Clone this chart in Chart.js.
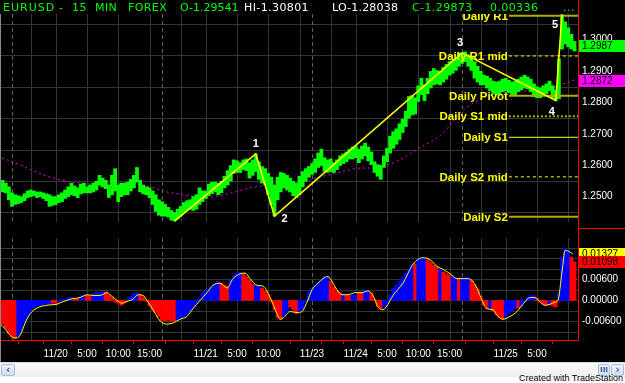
<!DOCTYPE html>
<html>
<head>
<meta charset="utf-8">
<script src="https://cdn.jsdelivr.net/npm/chart.js@4.4.1/dist/chart.umd.min.js"></script>
<style>
  html, body { margin:0; padding:0; width:625px; height:383px; overflow:hidden; background:#000; }
  #wrap { position:relative; width:625px; height:383px; background:#000; overflow:hidden; }
  canvas { position:absolute; left:0; }
  #cMain { top:0; }
  #cMacd { top:228px; }
  .hd { position:absolute; top:1px; font-family:"DejaVu Sans"; font-size:11px; line-height:14px; white-space:pre; letter-spacing:0.4px; }
  .g { color:#00ff00; } .w { color:#ffffff; }
  .rl { position:absolute; background:#ff0000; }
  #leftEdge { position:absolute; left:0; top:14px; width:1px; height:348px; background:#8a8a8a; }
  #scroll { position:absolute; left:0; top:362px; width:625px; height:15px; background:linear-gradient(#fbfbfb,#eeeeee); border-top:1px solid #d8d8d8; box-sizing:border-box; }
  .btn { position:absolute; top:1px; height:12px; background:linear-gradient(#eef3fc,#cfdcf3); border:1px solid #a9bde0; box-sizing:border-box; border-radius:2px; color:#3d5a8c; font:bold 10px "DejaVu Sans"; line-height:10px; text-align:center; }
  #bottomWhite { position:absolute; left:0; top:377px; width:625px; height:6px; background:#ffffff; }
  #credit { position:absolute; right:2px; top:373px; font:9px "Liberation Sans"; color:#000; white-space:pre; line-height:10px; }
</style>
</head>
<body>
<div id="wrap">
  <canvas id="cMain" width="625" height="232"></canvas>
  <canvas id="cMacd" width="625" height="134"></canvas>

  <span class="hd g" style="left:3px;letter-spacing:1px">EURUSD</span>
  <span class="hd g" style="left:59px">-</span>
  <span class="hd g" style="left:72px">15</span>
  <span class="hd g" style="left:95px">MIN</span>
  <span class="hd g" style="left:128px">FOREX</span>
  <span class="hd g" style="left:180px;letter-spacing:0">O-1.29541</span>
  <span class="hd w" style="left:244px">HI-1.30801</span>
  <span class="hd w" style="left:332px;letter-spacing:0.2px">LO-1.28038</span>
  <span class="hd g" style="left:412px">C-1.29873</span>
  <span class="hd g" style="left:490px">0.00336</span>
  <span class="hd g" style="left:563px">...</span>

  <div class="rl" style="left:578px;top:0;width:1px;height:341px"></div>
  <div class="rl" style="left:578px;top:228px;width:47px;height:1px"></div>
  <div class="rl" style="left:0;top:340px;width:579px;height:1px"></div>
  <div id="leftEdge"></div>

  <div id="scroll">
    <div class="btn" style="left:1px;width:14px">&lsaquo;</div>
    <div class="btn" style="left:598px;width:12px;font-size:7px">III</div>
    <div class="btn" style="left:611px;width:13px">&rsaquo;</div>
  </div>
  <div id="bottomWhite"></div>
  <div id="credit">Created with TradeStation</div>
</div>

<script>
// ---------------- DATA ----------------
// time axis: half-hour index counted from the 11/19 17:00 session start (weekend removed)
const firstBar = -3;
const priceHigh = [1.2552,1.2543,1.2531,1.2512,1.2506,1.2503,1.2500,1.2509,1.2518,1.2521,
  1.2518,1.2515,1.2515,1.2512,1.2509,1.2506,1.2500,1.2500,1.2506,1.2512,
  1.2521,1.2531,1.2543,1.2534,1.2528,1.2540,1.2543,1.2531,1.2537,1.2543,
  1.2549,1.2568,1.2559,1.2552,1.2537,1.2568,1.2589,1.2537,1.2543,1.2543,
  1.2546,1.2555,1.2568,1.2593,1.2552,1.2537,1.2531,1.2528,1.2518,1.2506,
  1.2490,1.2484,1.2475,1.2466,1.2456,1.2450,1.2460,1.2469,1.2481,1.2487,
  1.2490,1.2500,1.2506,1.2528,1.2518,1.2518,1.2540,1.2546,1.2546,1.2543,
  1.2549,1.2565,1.2583,1.2599,1.2617,1.2614,1.2608,1.2617,1.2620,1.2608,
  1.2617,1.2636,1.2611,1.2596,1.2589,1.2574,1.2562,1.2537,1.2562,1.2577,
  1.2574,1.2568,1.2559,1.2549,1.2543,1.2565,1.2580,1.2589,1.2596,1.2605,
  1.2620,1.2639,1.2651,1.2624,1.2617,1.2620,1.2608,1.2617,1.2630,1.2636,
  1.2642,1.2651,1.2658,1.2661,1.2651,1.2661,1.2670,1.2658,1.2642,1.2611,
  1.2602,1.2599,1.2630,1.2654,1.2692,1.2707,1.2716,1.2732,1.2747,1.2772,
  1.2819,1.2822,1.2815,1.2853,1.2877,1.2856,1.2877,1.2899,1.2908,1.2902,
  1.2899,1.2912,1.2921,1.2930,1.2933,1.2943,1.2958,1.2955,1.2961,1.2952,
  1.2943,1.2930,1.2915,1.2899,1.2887,1.2884,1.2877,1.2868,1.2865,1.2868,
  1.2874,1.2877,1.2871,1.2865,1.2868,1.2874,1.2881,1.2887,1.2881,1.2874,
  1.2859,1.2850,1.2846,1.2853,1.2859,1.2868,1.2853,1.2840,1.2939,1.3079,
  1.3057,1.3038,1.3017,1.2995];
const priceLow = [1.2515,1.2512,1.2490,1.2469,1.2475,1.2478,1.2481,1.2487,1.2497,1.2500,
  1.2503,1.2497,1.2500,1.2494,1.2487,1.2469,1.2472,1.2475,1.2481,1.2484,
  1.2494,1.2500,1.2506,1.2503,1.2497,1.2509,1.2512,1.2512,1.2512,1.2515,
  1.2521,1.2537,1.2531,1.2525,1.2497,1.2506,1.2518,1.2484,1.2500,1.2506,
  1.2506,1.2518,1.2528,1.2546,1.2515,1.2509,1.2506,1.2497,1.2475,1.2453,
  1.2441,1.2438,1.2438,1.2435,1.2425,1.2422,1.2429,1.2438,1.2450,1.2456,
  1.2460,1.2456,1.2460,1.2475,1.2484,1.2494,1.2503,1.2509,1.2515,1.2506,
  1.2512,1.2528,1.2537,1.2549,1.2574,1.2577,1.2577,1.2586,1.2583,1.2559,
  1.2568,1.2580,1.2555,1.2543,1.2537,1.2506,1.2475,1.2438,1.2490,1.2515,
  1.2528,1.2521,1.2515,1.2503,1.2497,1.2506,1.2531,1.2549,1.2562,1.2571,
  1.2577,1.2593,1.2599,1.2580,1.2577,1.2580,1.2577,1.2586,1.2599,1.2605,
  1.2611,1.2620,1.2620,1.2624,1.2608,1.2620,1.2630,1.2614,1.2602,1.2577,
  1.2565,1.2555,1.2593,1.2611,1.2639,1.2654,1.2667,1.2682,1.2704,1.2723,
  1.2750,1.2760,1.2763,1.2803,1.2825,1.2806,1.2828,1.2846,1.2856,1.2859,
  1.2856,1.2865,1.2874,1.2887,1.2893,1.2902,1.2915,1.2924,1.2930,1.2915,
  1.2902,1.2877,1.2865,1.2856,1.2856,1.2846,1.2837,1.2828,1.2825,1.2825,
  1.2834,1.2837,1.2831,1.2825,1.2825,1.2834,1.2840,1.2846,1.2843,1.2834,
  1.2819,1.2815,1.2815,1.2822,1.2828,1.2837,1.2815,1.2806,1.2812,1.2970,
  1.2986,1.2977,1.2970,1.2964];
const lastClose = 1.29873;

const maTime = [-3.2,1.6,6.7,12.2,17.6,22.7,28.2,33.6,38.7,44.2,49.6,54.7,60.2,65.0,71.4,77.8,
  84.2,90.6,97.0,103.4,109.8,116.2,122.6,129.6,137.0,141.8,145.6,152.0,160.3,169.0,175.4,180.0];
const maValue = [1.2623,1.2605,1.2583,1.2562,1.2549,1.2543,1.2537,1.2537,1.2540,1.2531,1.2515,1.2506,
  1.2499,1.2500,1.2515,1.2531,1.2537,1.2540,1.2559,1.2574,1.2589,1.2593,1.2610,1.2651,1.2695,1.2747,
  1.2785,1.2819,1.2834,1.2840,1.2856,1.2872];

const waveTime = [52,78,84,144,174,176];
const waveValue = [1.2422,1.2636,1.2438,1.2958,1.2806,1.3080];
const waveLabel = ['','1','2','3','4','5'];

const pivotNames = ['Daily R1','Daily R1 mid','Daily Pivot','Daily S1 mid','Daily S1','Daily S2 mid','Daily S2'];
const pivotValues = [1.3076,1.2948,1.2821,1.2756,1.2689,1.2563,1.2436];
const pivotStart = 159;

const priceTicks = [1.25,1.26,1.27,1.28,1.29,1.30];
const priceGrid = [1.245,1.255,1.265,1.275,1.285,1.295,1.305];

const macdHist = [-0.0068,-0.0081,-0.0095,-0.0105,-0.0108,-0.0103,-0.0086,-0.0065,-0.0049,-0.0032,
  -0.0022,-0.0016,-0.0014,-0.0013,-0.0011,-0.0010,-0.0008,-0.0008,-0.0005,0.0003,
  0.0003,0.0008,0.0008,0.0005,0.0005,0.0013,0.0014,0.0014,0.0011,0.0019,
  0.0022,0.0023,0.0024,0.0024,0.0016,0.0008,-0.0005,-0.0008,-0.0014,-0.0008,
  0.0003,0.0011,0.0019,0.0022,0.0016,0.0008,-0.0003,-0.0016,-0.0027,-0.0035,
  -0.0046,-0.0057,-0.0059,-0.0057,-0.0059,-0.0059,-0.0054,-0.0051,-0.0049,-0.0041,
  -0.0030,-0.0022,-0.0011,0.0003,0.0022,0.0027,0.0032,0.0041,0.0049,0.0054,
  0.0049,0.0043,0.0041,0.0059,0.0070,0.0078,0.0081,0.0076,0.0068,0.0059,
  0.0046,0.0041,0.0041,0.0035,0.0027,0.0016,-0.0005,-0.0027,-0.0049,-0.0054,
  -0.0046,-0.0032,-0.0019,-0.0027,-0.0038,-0.0032,-0.0024,-0.0005,0.0024,0.0035,
  0.0043,0.0051,0.0059,0.0068,0.0068,0.0054,0.0038,0.0027,0.0022,0.0016,
  0.0014,0.0014,0.0016,0.0016,0.0022,0.0022,0.0030,0.0027,0.0022,0.0003,
  -0.0016,-0.0024,-0.0019,-0.0011,0.0016,0.0035,0.0043,0.0054,0.0065,0.0078,
  0.0089,0.0103,0.0105,0.0119,0.0122,0.0122,0.0116,0.0108,0.0100,0.0095,
  0.0089,0.0081,0.0076,0.0073,0.0070,0.0062,0.0062,0.0065,0.0065,0.0065,
  0.0057,0.0046,0.0032,0.0011,-0.0014,-0.0024,-0.0022,-0.0030,-0.0041,-0.0049,
  -0.0054,-0.0046,-0.0038,-0.0030,-0.0024,-0.0022,-0.0019,-0.0005,0.0008,0.0014,
  0.0014,0.0005,-0.0003,-0.0011,-0.0014,-0.0014,-0.0016,-0.0019,0.0022,0.0124,
  0.0149,0.0143,0.0124,0.01098];
// u = rising (blue), d = falling (red)
const macdTrend = ("ddddduuuuu" + "uuuuuudduu" + "uuudduuddu" + "uuuddddddd" + "uuuudddddd" +
  "dddddduuuu" + "uuuuuuuuuu" + "ddduuuuddd" + "duuddddddd" + "uuddduuuuu" +
  "uuuuuddddu" + "dduudduudd" + "dduuuuuuuu" + "uuduuudddd" + "uddduuduuu" +
  "dddddduddd" + "duuuuduuuu" + "uddddudduu" + "uudd").split('');

const macdLineTime = [-3.8,-2.2,-0.6,1.0,2.6,4.2,5.8,8.0,11.2,14.4,16.0,17.6,19.5,21.8,24.0,25.9,28.2,30.4,32.0,33.6,
  35.2,36.8,38.7,40.3,41.9,43.2,45.1,47.4,49.6,51.5,53.8,56.0,57.9,60.2,62.4,64.3,66.6,68.8,70.7,73.0,
  74.6,76.2,78.4,80.3,82.6,84.8,85.8,86.7,89.0,91.2,92.8,94.4,96.0,97.9,99.5,101.1,102.4,104.0,105.6,107.5,
  109.8,112.0,113.9,115.5,117.1,118.7,120.3,121.9,125.1,128.3,131.5,133.8,136.0,137.9,140.2,142.4,145.6,147.2,148.8,150.4,
  152.0,153.9,155.5,157.1,159.4,161.6,163.5,165.8,167.4,169.0,170.6,172.2,173.8,174.7,176.0,177.0,178.6,179.5];
const macdLineValue = [-0.0068,-0.0081,-0.0100,-0.0108,-0.0100,-0.0065,-0.0038,-0.0022,-0.0014,-0.0011,
  -0.0005,0.0000,0.0005,0.0008,0.0016,0.0014,0.0014,0.0022,0.0011,0.0000,
  -0.0008,-0.0003,0.0003,0.0016,0.0014,0.0000,-0.0027,-0.0059,-0.0068,-0.0065,
  -0.0054,-0.0046,-0.0024,0.0000,0.0022,0.0043,0.0049,0.0035,0.0062,0.0076,
  0.0078,0.0062,0.0043,0.0041,0.0008,-0.0038,-0.0054,-0.0051,-0.0032,-0.0035,
  -0.0032,-0.0005,0.0030,0.0049,0.0062,0.0068,0.0054,0.0030,0.0016,0.0016,
  0.0022,0.0022,0.0027,0.0014,-0.0019,-0.0027,-0.0011,0.0014,0.0049,0.0103,
  0.0122,0.0116,0.0097,0.0089,0.0076,0.0062,0.0062,0.0057,0.0035,0.0000,
  -0.0024,-0.0027,-0.0046,-0.0054,-0.0046,-0.0032,-0.0011,0.0008,0.0008,-0.0005,
  -0.0014,-0.0011,-0.0005,0.0000,0.0081,0.0143,0.0138,0.01327];
const macdTicks = [-0.006, 0, 0.006];
const macdGrid = [-0.009,-0.006,-0.003,0,0.003,0.006,0.009,0.012,0.015];

const gridTimes = [6,14,24,34,44,54,62,72,82,92,102,110,120,130,140,150,158,168,178];
const sessionTimes = [0,48,96,144];
const axisTimes = [6,14,24,34,44,54,62,72,82,96,102,110,120,130,140,150,158,168,178];
const axisLabels = ['','11/20','5:00','10:00','15:00','','11/21','5:00','10:00','11/23','','11/24','5:00','10:00','15:00','','11/25','5:00',''];

const xMin = -3.84, xMax = 181.12;

// ---------------- DRAWING ----------------
const barTimes = priceHigh.map((_, i) => firstBar + i);
const FONT = 'Liberation Sans';

const gridPlugin = {
  id: 'tsGrid',
  beforeDatasetsDraw(chart, args, opts) {
    const { ctx, chartArea: a, scales: { x, y } } = chart;
    ctx.save();
    ctx.beginPath(); ctx.rect(a.left, a.top, a.right - a.left, a.bottom - a.top); ctx.clip();
    ctx.lineWidth = 1; ctx.strokeStyle = '#363636';
    (opts.h || []).forEach(v => {
      const py = Math.round(y.getPixelForValue(v)) + 0.5;
      ctx.beginPath(); ctx.moveTo(a.left, py); ctx.lineTo(a.right, py); ctx.stroke();
    });
    gridTimes.forEach(t => {
      const px = Math.round(x.getPixelForValue(t)) + 0.5;
      ctx.beginPath(); ctx.moveTo(px, a.top); ctx.lineTo(px, a.bottom); ctx.stroke();
    });
    ctx.strokeStyle = '#606060'; ctx.setLineDash([4, 3]);
    sessionTimes.forEach(t => {
      const px = Math.round(x.getPixelForValue(t)) + 0.5;
      ctx.beginPath(); ctx.moveTo(px, a.top); ctx.lineTo(px, a.bottom); ctx.stroke();
    });
    ctx.restore();
  }
};

function valueBox(ctx, x0, cy, bg, fg, text) {
  ctx.save();
  ctx.fillStyle = bg;
  ctx.fillRect(x0, Math.round(cy) - 6, 625 - x0, 12);
  ctx.fillStyle = fg; ctx.font = '10px "' + FONT + '"';
  ctx.textAlign = 'left'; ctx.textBaseline = 'middle';
  ctx.fillText(text, x0 + 3, Math.round(cy) + 0.5);
  ctx.restore();
}

const mainOverlay = {
  id: 'mainOverlay',
  afterDatasetsDraw(chart) {
    const { ctx, chartArea: a, scales: { x, y } } = chart;
    ctx.save();
    ctx.beginPath(); ctx.rect(a.left, a.top, a.right - a.left, a.bottom - a.top); ctx.clip();
    ctx.font = 'bold 11.5px "' + FONT + '"';
    ctx.fillStyle = '#ffff00'; ctx.textAlign = 'right'; ctx.textBaseline = 'middle';
    const lx = x.getPixelForValue(pivotStart) - 1;
    pivotNames.forEach((n, i) => ctx.fillText(n, lx, y.getPixelForValue(pivotValues[i]) + 1));
    ctx.fillStyle = '#ffffff'; ctx.textAlign = 'center';
    ctx.font = 'bold 11px "' + FONT + '"';
    const off = { '1': [0, -10], '2': [10, 3], '3': [-2, -10], '4': [-4, 11], '5': [-7, 10] };
    waveLabel.forEach((l, i) => {
      if (!l) return;
      ctx.fillText(l, x.getPixelForValue(waveTime[i]) + off[l][0], y.getPixelForValue(waveValue[i]) + off[l][1]);
    });
    ctx.restore();
    valueBox(ctx, a.right + 1, y.getPixelForValue(lastClose) + 2, '#00ff00', '#000', lastClose.toFixed(4));
    valueBox(ctx, a.right + 1, y.getPixelForValue(maValue[maValue.length - 1]) + 1, '#ff00ff', '#000', maValue[maValue.length - 1].toFixed(4));
  }
};

const macdOverlay = {
  id: 'macdOverlay',
  afterDatasetsDraw(chart) {
    const { ctx, chartArea: a, scales: { y } } = chart;
    const lineLast = macdLineValue[macdLineValue.length - 1];
    const histLast = macdHist[macdHist.length - 1];
    valueBox(ctx, a.right + 1, y.getPixelForValue(lineLast), '#ffff00', '#000', lineLast.toFixed(5));
    valueBox(ctx, a.right + 1, y.getPixelForValue(histLast), '#ff0000', '#000', histLast.toFixed(5));
  }
};

const pivotColor = ['#b4aa00', '#ffff00', '#b4aa00', '#b4aa00', '#ffff00', '#ffff00', '#b4aa00'];
const pivotWidth = [2, 1, 2, 2, 1, 1, 2];
const pivotDash = [[], [3, 3], [], [2, 2], [], [3, 3], []];

const common = {
  responsive: false, animation: false, devicePixelRatio: 1, events: [],
  plugins: { legend: { display: false }, tooltip: { enabled: false } }
};

new Chart(document.getElementById('cMain'), {
  type: 'bar',
  data: {
    datasets: [
      { type: 'line', data: waveTime.map((t, i) => ({ x: t, y: waveValue[i] })), borderColor: '#ffff00',
        borderWidth: 1.6, pointRadius: 0, tension: 0, order: 0 },
      ...pivotValues.map((v, i) => ({ type: 'line', data: [{ x: pivotStart, y: v }, { x: xMax, y: v }],
        borderColor: pivotColor[i], borderWidth: pivotWidth[i], borderDash: pivotDash[i], pointRadius: 0, order: 1 })),
      { type: 'bar', data: barTimes.map((t, i) => ({ x: t, y: [priceLow[i], priceHigh[i]] })),
        backgroundColor: '#00ff00', borderWidth: 0, barPercentage: 1, categoryPercentage: 1, order: 2 },
      { type: 'line', data: maTime.map((t, i) => ({ x: t, y: maValue[i] })), borderColor: '#e600e6',
        borderWidth: 1, borderDash: [2, 3], pointRadius: 0, tension: 0.4, order: 3 }
    ]
  },
  options: Object.assign({}, common, {
    layout: { padding: { top: 14, bottom: 4, left: 0, right: 0 } },
    plugins: Object.assign({}, common.plugins, { tsGrid: { h: priceGrid } }),
    scales: {
      x: { type: 'linear', min: xMin, max: xMax, offset: false,
        ticks: { display: false }, grid: { display: false, drawTicks: false }, border: { display: false },
        afterFit: s => { s.height = 0; } },
      y: { position: 'right', min: 1.24192, max: 1.30817,
        afterBuildTicks: s => { s.ticks = priceTicks.map(v => ({ value: v })); },
        afterFit: s => { s.width = 47; },
        ticks: { color: '#ffffff', font: { family: FONT, size: 10 }, padding: 4, autoSkip: false,
          callback: v => Number(v).toFixed(4) },
        grid: { display: false, drawTicks: false }, border: { display: false } }
    }
  }),
  plugins: [gridPlugin, mainOverlay]
});

new Chart(document.getElementById('cMacd'), {
  type: 'bar',
  data: {
    datasets: [
      { type: 'line', data: macdLineTime.map((t, i) => ({ x: t, y: macdLineValue[i] })), borderColor: '#ffff00',
        borderWidth: 1, pointRadius: 0, cubicInterpolationMode: 'monotone', order: 0 },
      { type: 'bar', data: barTimes.map((t, i) => ({ x: t, y: macdHist[i] })),
        backgroundColor: macdTrend.map(d => d === 'u' ? '#0000ff' : '#ff0000'),
        borderWidth: 0, barPercentage: 1, categoryPercentage: 1, order: 1 }
    ]
  },
  options: Object.assign({}, common, {
    layout: { padding: { top: 4, bottom: 0, left: 0, right: 0 } },
    plugins: Object.assign({}, common.plugins, { tsGrid: { h: macdGrid } }),
    scales: {
      x: { type: 'linear', min: xMin, max: xMax, offset: false,
        afterBuildTicks: s => { s.ticks = axisTimes.map(v => ({ value: v })); },
        afterFit: s => { s.height = 22; },
        ticks: { color: '#ffffff', font: { family: FONT, size: 10 }, padding: 4, autoSkip: false,
          maxRotation: 0, minRotation: 0, callback: (v, i) => axisLabels[i] },
        grid: { display: true, drawOnChartArea: false, drawTicks: true, tickLength: 4, tickColor: '#ff0000', color: '#ff0000' },
        border: { display: false } },
      y: { position: 'right', min: -0.01135, max: 0.01784,
        afterBuildTicks: s => { s.ticks = macdTicks.map(v => ({ value: v })); },
        afterFit: s => { s.width = 47; },
        ticks: { color: '#ffffff', font: { family: FONT, size: 10 }, padding: 4, autoSkip: false,
          callback: v => Number(v).toFixed(5) },
        grid: { display: false, drawTicks: false }, border: { display: false } }
    }
  }),
  plugins: [gridPlugin, macdOverlay]
});
</script>
</body>
</html>
